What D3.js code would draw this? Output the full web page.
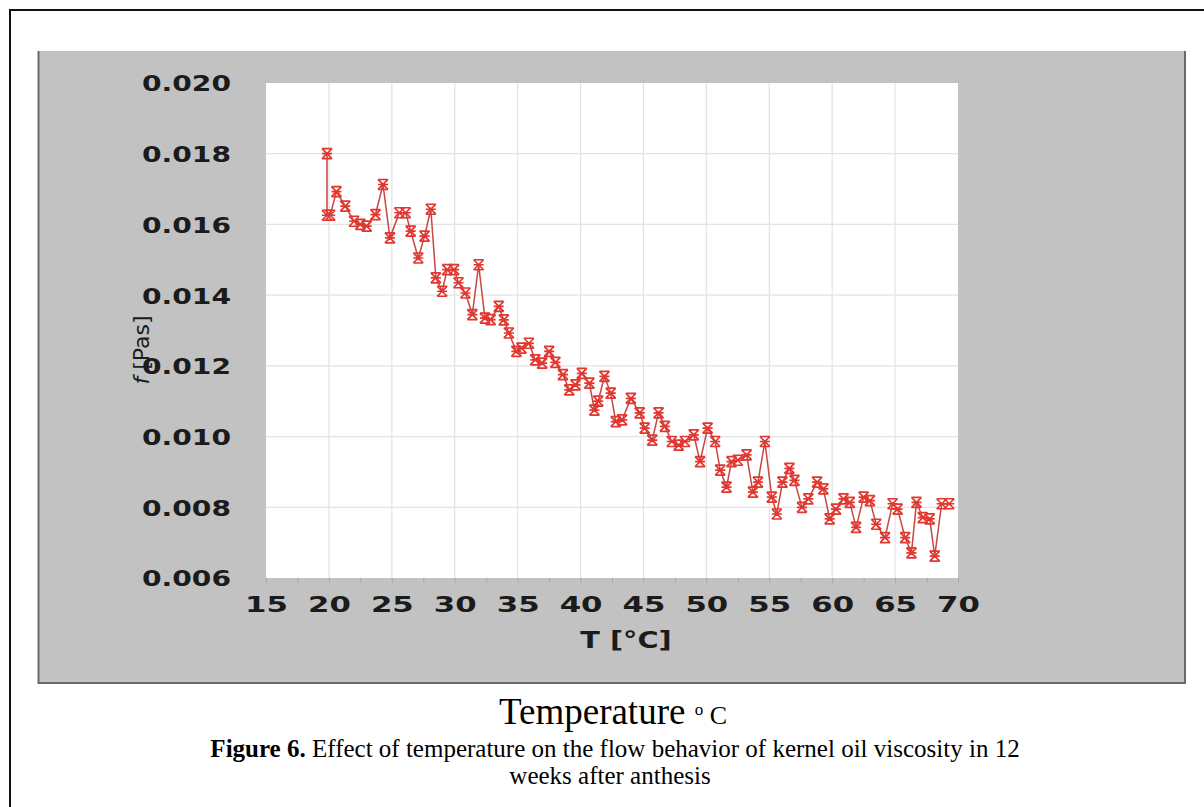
<!DOCTYPE html>
<html>
<head>
<meta charset="utf-8">
<script src="https://cdn.jsdelivr.net/npm/d3@7/dist/d3.min.js"></script>
<style>
  html, body { margin: 0; padding: 0; background: #ffffff; }
  svg { display: block; }
</style>
</head>
<body>
<svg id="fig" width="1204" height="807"></svg>
<script>
// Temperature sweep (°C) and measured viscosity f (Pa·s)
const temperature = [
  19.85, 19.85, 20.1, 20.6, 21.3, 22.0, 22.5, 23.0, 23.7, 24.3,
  24.85, 25.6, 26.1, 26.5, 27.1, 27.6, 28.1, 28.5, 29.0, 29.4,
  29.95, 30.3, 30.85, 31.4, 31.9, 32.4, 32.85, 33.5, 33.9, 34.3,
  34.9, 35.3, 35.9, 36.4, 36.95, 37.5, 38.0, 38.6, 39.1, 39.6,
  40.1, 40.7, 41.1, 41.4, 41.9, 42.4, 42.8, 43.3, 44.0, 44.7,
  45.1, 45.7, 46.2, 46.7, 47.25, 47.8, 48.3, 49.0, 49.5, 50.1,
  50.7, 51.1, 51.6, 52.0, 52.5, 53.2, 53.7, 54.1, 54.65, 55.2,
  55.6, 56.05, 56.6, 57.0, 57.6, 58.1, 58.8, 59.3, 59.8, 60.3,
  60.9, 61.4, 61.9, 62.5, 63.0, 63.5, 64.2, 64.8, 65.2, 65.8,
  66.3, 66.7, 67.2, 67.75, 68.15, 68.7, 69.3
];
const viscosity = [
  0.0180, 0.01626, 0.01626, 0.01693, 0.01652, 0.01609, 0.01600, 0.01595, 0.01628, 0.01713,
  0.01562, 0.01633, 0.01633, 0.01581, 0.01505, 0.01567, 0.01643, 0.01449, 0.01411, 0.01472,
  0.01472, 0.01435, 0.01406, 0.01345, 0.01486, 0.01335, 0.01331, 0.01368, 0.01330, 0.01293,
  0.01241, 0.01250, 0.01264, 0.01217, 0.01208, 0.01241, 0.01210, 0.01175, 0.01132, 0.01146,
  0.01179, 0.01151, 0.01075, 0.01100, 0.01170, 0.01123, 0.01042, 0.01047, 0.01108, 0.01067,
  0.01024, 0.00990, 0.01067, 0.01029, 0.00986, 0.00976, 0.00986, 0.01005, 0.00929, 0.01024,
  0.00986, 0.00905, 0.00857, 0.00929, 0.00933, 0.00948, 0.00843, 0.00871, 0.00986, 0.00829,
  0.00781, 0.00871, 0.00910, 0.00876, 0.00800, 0.00824, 0.00871, 0.00852, 0.00767, 0.00795,
  0.00824, 0.00814, 0.00743, 0.00829, 0.00819, 0.00752, 0.00714, 0.00810, 0.00795, 0.00714,
  0.00671, 0.00814, 0.00771, 0.00767, 0.00662, 0.00810, 0.00810
];
const xTicks = [15, 20, 25, 30, 35, 40, 45, 50, 55, 60, 65, 70];
const yTicks = [0.006, 0.008, 0.010, 0.012, 0.014, 0.016, 0.018, 0.020];
const xTitle = "T  [°C]";
const captionTitle = "Temperature";
const captionBold = "Figure 6.";
const captionLine1 = " Effect of temperature on the flow behavior of kernel oil viscosity in 12";
const captionLine2 = "weeks after anthesis";

const data = temperature.map((t, i) => ({ t, f: viscosity[i] }));

const svg = d3.select("#fig");

// page frame
svg.append("path")
  .attr("d", "M10,1204 L10,10 L1210,10")
  .attr("fill", "none").attr("stroke", "#111").attr("stroke-width", 2);

// grey chart panel
svg.append("rect")
  .attr("x", 38).attr("y", 51).attr("width", 1147).attr("height", 632)
  .attr("fill", "#c2c2c2");
svg.append("path")
  .attr("d", "M38.5,51 L38.5,683 L1185,683 L1185,51")
  .attr("fill", "none").attr("stroke", "#6a6a6a").attr("stroke-width", 2);

// plot area
const plot = { left: 266, top: 83, right: 958, bottom: 578 };
const x = d3.scaleLinear().domain([15, 70]).range([plot.left, plot.right]);
const y = d3.scaleLinear().domain([0.006, 0.020]).range([plot.bottom, plot.top]);

svg.append("rect")
  .attr("x", plot.left).attr("y", plot.top)
  .attr("width", plot.right - plot.left).attr("height", plot.bottom - plot.top)
  .attr("fill", "#ffffff");

// grid
const grid = svg.append("g").attr("stroke", "#e3e3e3").attr("stroke-width", 1.2);
grid.selectAll("line.v").data(xTicks.slice(1, -1)).join("line")
  .attr("x1", d => x(d)).attr("x2", d => x(d))
  .attr("y1", plot.top).attr("y2", plot.bottom);
grid.selectAll("line.h").data(yTicks.slice(1, -1)).join("line")
  .attr("x1", plot.left).attr("x2", plot.right)
  .attr("y1", d => y(d)).attr("y2", d => y(d));

// axes (ticks outside the white area, labels widened like the original export)
const labelFont = "'DejaVu Sans', Verdana, sans-serif";
const xAxis = svg.append("g")
  .attr("transform", `translate(0,${plot.bottom})`)
  .call(d3.axisBottom(x).tickValues(d3.range(15, 70.01, 2.5)).tickSize(5).tickFormat(d => (d % 5 === 0 ? d : "")));
xAxis.select(".domain").remove();
xAxis.selectAll(".tick line").attr("stroke", "#a8a8a8");
xAxis.selectAll(".tick text")
  .attr("y", 0).attr("dy", 0)
  .attr("transform", "translate(0,34) scale(1.4,1)")
  .attr("fill", "#1b1b1b")
  .style("font-family", labelFont).style("font-size", "22px").style("font-weight", "bold");

const yAxis = svg.append("g")
  .attr("transform", `translate(${plot.left},0)`)
  .call(d3.axisLeft(y).tickValues(yTicks).tickSize(0).tickFormat(d3.format(".3f")));
yAxis.select(".domain").remove();
yAxis.selectAll(".tick text")
  .attr("x", 0).attr("dy", "0.36em")
  .attr("transform", "translate(-35,0) scale(1.28,1)")
  .attr("fill", "#1b1b1b")
  .style("font-family", labelFont).style("font-size", "22px").style("font-weight", "bold");

// axis titles
svg.append("text")
  .attr("transform", `translate(${(plot.left + plot.right) / 2 + 14},648) scale(1.25,1)`)
  .attr("text-anchor", "middle")
  .attr("fill", "#1b1b1b")
  .style("font-family", labelFont).style("font-size", "23px").style("font-weight", "bold")
  .text(xTitle);

const yTitle = svg.append("text")
  .attr("transform", "translate(149,350) rotate(-90)")
  .attr("text-anchor", "middle")
  .attr("fill", "#1b1b1b")
  .style("font-family", labelFont).style("font-size", "22px");
yTitle.append("tspan").style("font-style", "italic").text("f");
yTitle.append("tspan").text(" [Pas]");

// series line and star markers
const line = d3.line().x(d => x(d.t)).y(d => y(d.f));
svg.append("path")
  .datum(data)
  .attr("d", line)
  .attr("fill", "none")
  .attr("stroke", "#c9453f")
  .attr("stroke-width", 1.5);

const r = 5;
const star = `M${-r},${-r}L${r},${r}M${-r},${r}L${r},${-r}M${-r},${-r}L${r},${-r}M${-r},${r}L${r},${r}M${-r},0L${r},0`;
svg.append("g").selectAll("path").data(data).join("path")
  .attr("transform", d => `translate(${x(d.t)},${y(d.f)})`)
  .attr("d", star)
  .attr("fill", "none")
  .attr("stroke", "#e2362f")
  .attr("stroke-width", 1.7);

// caption
const serif = "'Liberation Serif', 'Times New Roman', serif";
const cap = svg.append("text")
  .attr("x", 613).attr("y", 724)
  .attr("text-anchor", "middle")
  .attr("fill", "#000")
  .style("font-family", serif).style("font-size", "37px");
cap.append("tspan").text(captionTitle + " ");
cap.append("tspan").attr("dy", -9).style("font-size", "17px").text("o");
cap.append("tspan").attr("dy", 9).style("font-size", "26px").text(" C");

const l1 = svg.append("text")
  .attr("x", 615).attr("y", 757)
  .attr("text-anchor", "middle")
  .attr("fill", "#000")
  .style("font-family", serif).style("font-size", "25px");
l1.append("tspan").style("font-weight", "bold").text(captionBold);
l1.append("tspan").text(captionLine1);

svg.append("text")
  .attr("x", 610).attr("y", 784)
  .attr("text-anchor", "middle")
  .attr("fill", "#000")
  .style("font-family", serif).style("font-size", "25px")
  .text(captionLine2);
</script>
</body>
</html>
